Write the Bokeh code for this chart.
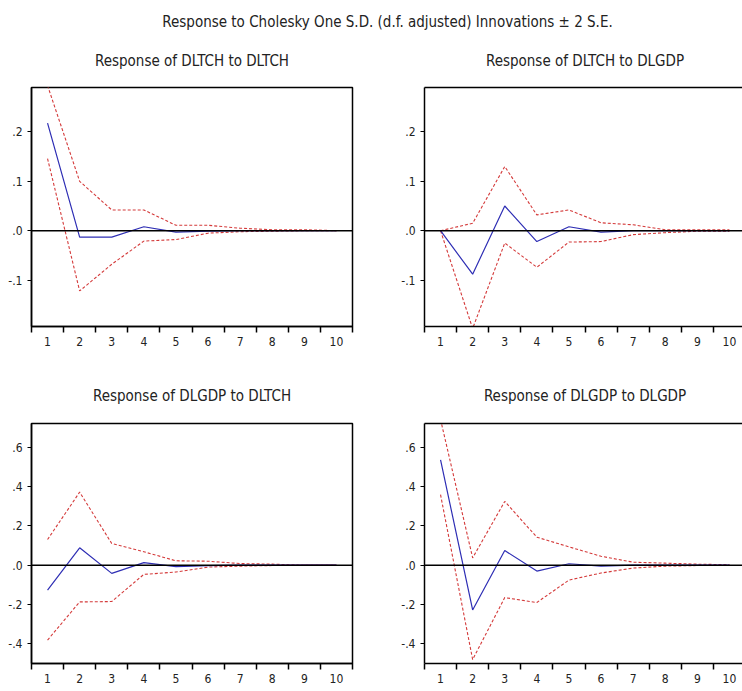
from bokeh.plotting import figure
from bokeh.layouts import column, row
from bokeh.models import Range1d, FixedTicker, CustomJSTickFormatter, Span, Label, LinearAxis
from bokeh.embed import file_html
from bokeh.resources import INLINE

FONT = "'Liberation Sans Narrow', 'DejaVu Sans Condensed', 'Liberation Sans', sans-serif"

main_title = "Response to Cholesky One S.D. (d.f. adjusted) Innovations \u00b1 2 S.E."

periods = [1, 2, 3, 4, 5, 6, 7, 8, 9, 10]

titles = ["Response of DLTCH to DLTCH", "Response of DLTCH to DLGDP",
          "Response of DLGDP to DLTCH", "Response of DLGDP to DLGDP"]

# Response of DLTCH to DLTCH
resp11 = [0.218, -0.013, -0.013, 0.008, -0.003, -0.001, 0.000, 0.000, 0.000, 0.000]
up11 = [0.294, 0.100, 0.042, 0.042, 0.011, 0.011, 0.005, 0.002, 0.002, 0.000]
lo11 = [0.146, -0.122, -0.068, -0.021, -0.018, -0.005, -0.002, -0.001, 0.000, 0.000]

# Response of DLTCH to DLGDP
resp12 = [0.000, -0.088, 0.050, -0.022, 0.008, -0.003, 0.000, 0.000, 0.000, 0.000]
up12 = [0.000, 0.015, 0.130, 0.032, 0.042, 0.016, 0.012, 0.002, 0.002, 0.002]
lo12 = [0.000, -0.198, -0.025, -0.074, -0.023, -0.022, -0.008, -0.004, -0.001, -0.001]

# Response of DLGDP to DLTCH
resp21 = [-0.127, 0.088, -0.042, 0.013, -0.008, -0.002, 0.000, 0.000, 0.000, 0.000]
up21 = [0.130, 0.371, 0.110, 0.068, 0.022, 0.020, 0.008, 0.005, 0.000, 0.000]
lo21 = [-0.381, -0.187, -0.185, -0.047, -0.035, -0.010, -0.005, -0.002, 0.000, 0.000]

# Response of DLGDP to DLGDP
resp22 = [0.535, -0.228, 0.074, -0.030, 0.007, -0.005, 0.000, 0.000, 0.000, 0.000]
up22 = [0.740, 0.037, 0.324, 0.142, 0.093, 0.045, 0.015, 0.010, 0.005, 0.002]
lo22 = [0.358, -0.480, -0.165, -0.190, -0.076, -0.040, -0.015, -0.005, -0.002, -0.001]

top_yrange = (-0.194, 0.290)
top_yticks = [-0.1, 0.0, 0.1, 0.2]
bot_yrange = (-0.50, 0.72)
bot_yticks = [-0.4, -0.2, 0.0, 0.2, 0.4, 0.6]

BLUE = "#2e2eb4"
RED = "#d43a3a"
TXT = "#222222"

yfmt_code = r"""
let s = tick.toFixed(1);
return s.replace(/^(-?)0\./, '$1.');
"""


def panel(resp, up, lo, yr, yticks, right_side, height, btop, bbot):
    if right_side:
        xr = Range1d(0.5, 0.5 + 318 / 32.1)
        bl, br = 53, 0
    else:
        xr = Range1d(0.5, 10.5)
        bl, br = 31, 19
    p = figure(width=371, height=height, x_range=xr, y_range=Range1d(*yr),
               toolbar_location=None, output_backend="svg",
               min_border_left=bl, min_border_right=br,
               min_border_top=btop, min_border_bottom=bbot)
    p.grid.visible = False
    p.background_fill_color = "white"
    p.border_fill_color = "white"

    xa = p.below[0]
    xa.ticker = FixedTicker(ticks=periods, minor_ticks=[i + 0.5 for i in range(0, 11)])
    xa.formatter = CustomJSTickFormatter(code="return tick.toFixed(0);")
    xa.major_tick_out = 0
    xa.major_tick_in = 0
    xa.minor_tick_out = 6
    xa.minor_tick_in = 0
    xa.minor_tick_line_color = "black"
    xa.minor_tick_line_width = 1.5
    xa.axis_line_color = "black"
    xa.axis_line_width = 1.5
    xa.major_label_standoff = 4
    xa.major_label_text_font = FONT
    xa.major_label_text_font_size = "12px"
    xa.major_label_text_color = TXT

    ya = p.left[0]
    ya.ticker = FixedTicker(ticks=yticks, minor_ticks=[])
    ya.formatter = CustomJSTickFormatter(code=yfmt_code)
    ya.major_tick_out = 4
    ya.major_tick_in = 0
    ya.major_tick_line_color = "black"
    ya.major_tick_line_width = 1.2
    ya.minor_tick_out = 0
    ya.minor_tick_in = 0
    ya.axis_line_color = "black"
    ya.axis_line_width = 1.5
    ya.major_label_standoff = 5
    ya.major_label_text_font = FONT
    ya.major_label_text_font_size = "12px"
    ya.major_label_text_color = TXT

    if right_side:
        p.outline_line_color = None
        top_ax = LinearAxis(ticker=FixedTicker(ticks=[], minor_ticks=[]),
                            axis_line_color="black", axis_line_width=1.5,
                            major_tick_out=0, major_tick_in=0,
                            minor_tick_out=0, minor_tick_in=0,
                            major_label_text_font_size="0px",
                            major_label_standoff=0)
        p.add_layout(top_ax, "above")
    else:
        p.outline_line_color = "black"
        p.outline_line_width = 1.5

    p.line(periods, up, line_color=RED, line_width=1.1, line_dash="3 2")
    p.line(periods, lo, line_color=RED, line_width=1.1, line_dash="3 2")
    p.line(periods, resp, line_color=BLUE, line_width=1.2)
    p.add_layout(Span(location=0, dimension="width", line_color="black", line_width=1.5))
    return p


def text_strip(height, items):
    f = figure(width=742, height=height, x_range=Range1d(0, 742), y_range=Range1d(height, 0),
               x_axis_location=None, y_axis_location=None, toolbar_location=None,
               output_backend="svg", min_border=0, outline_line_color=None)
    f.grid.visible = False
    for (x, y, t) in items:
        f.add_layout(Label(x=x, y=y, text=t, text_align="center",
                           text_baseline="alphabetic", text_font=FONT,
                           text_font_size="15px", text_color=TXT))
    return f


head1 = text_strip(85, [(387, 21, main_title), (191.5, 60, titles[0]), (584.5, 60, titles[1])])
p11 = panel(resp11, up11, lo11, top_yrange, top_yticks, False, 285, 2, 44)
p12 = panel(resp12, up12, lo12, top_yrange, top_yticks, True, 285, 2, 44)
head2 = text_strip(51, [(191.5, 25, titles[2]), (584.5, 25, titles[3])])
p21 = panel(resp21, up21, lo21, bot_yrange, bot_yticks, False, 270, 2, 28)
p22 = panel(resp22, up22, lo22, bot_yrange, bot_yticks, True, 270, 2, 28)

layout = column(head1, row(p11, p12, spacing=0), head2, row(p21, p22, spacing=0), spacing=0)

open("out.html", "w").write(file_html(layout, INLINE))
